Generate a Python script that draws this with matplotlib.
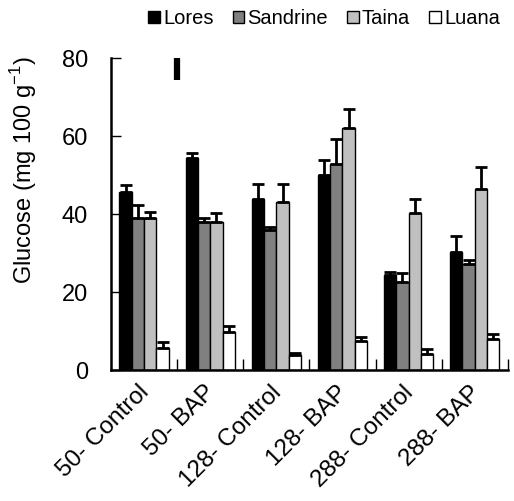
import numpy as np
import matplotlib
matplotlib.use("Agg")
import matplotlib.pyplot as plt
from matplotlib.transforms import ScaledTranslation

plt.rcParams['font.family'] = ['Liberation Sans', 'DejaVu Sans']

categories = ["50- Control", "50- BAP", "128- Control", "128- BAP", "288- Control", "288- BAP"]
series = ["Lores", "Sandrine", "Taina", "Luana"]
colors = ["#000000", "#808080", "#c0c0c0", "#ffffff"]

lores = [45.6, 54.4, 44.0, 50.1, 24.4, 30.3]
lores_err = [1.9, 1.3, 3.7, 3.7, 0.8, 4.0]
sandrine = [39.0, 37.9, 35.9, 52.9, 22.5, 27.3]
sandrine_err = [3.3, 1.1, 0.9, 6.3, 2.4, 1.0]
taina = [39.0, 37.9, 43.1, 62.1, 40.3, 46.5]
taina_err = [1.6, 2.4, 4.6, 4.9, 3.5, 5.6]
luana = [5.7, 9.8, 4.0, 7.5, 4.1, 8.1]
luana_err = [1.6, 1.6, 0.3, 0.9, 1.3, 1.2]

values = [lores, sandrine, taina, luana]
errors = [lores_err, sandrine_err, taina_err, luana_err]

fig = plt.figure(figsize=(5.14, 5.01), dpi=100)
ax = fig.add_axes([0.216, 0.261, 0.772, 0.623])

x = np.arange(len(categories))
width = 0.186
offsets = (np.arange(len(series)) - 1.5) * width

handles = []
for i, name in enumerate(series):
    b = ax.bar(x + offsets[i], values[i], width, color=colors[i], edgecolor="black",
               linewidth=1.0, label=name, zorder=2)
    ax.errorbar(x + offsets[i], values[i], yerr=[np.zeros(len(x)), errors[i]],
                fmt="none", ecolor="black", elinewidth=2, capsize=4.5, capthick=2, zorder=3)
    handles.append(b)

# short stray stroke near the top of the plot
ax.vlines(0.5, 74.3, 80, colors="black", linewidth=4.5, zorder=3)

ax.set_xlim(-0.5, len(categories) - 0.5)
ax.set_ylim(0, 80)
ax.set_yticks([0, 20, 40, 60, 80])
ax.tick_params(axis="y", direction="in", length=7, width=1, labelsize=17, pad=16.5)
ax.set_xticks(x + 0.5, minor=False)
ax.set_xticks(x, minor=True)
ax.tick_params(axis="x", which="major", direction="in", length=8, width=1, labelbottom=False)
ax.tick_params(axis="x", which="minor", length=0, labelsize=17.5, pad=13)
ax.set_xticklabels(categories, minor=True, rotation=45, ha="right", rotation_mode="anchor")
shift = ScaledTranslation(-6 / 100, 7 / 100, fig.dpi_scale_trans)
for lbl in ax.get_xticklabels(minor=True):
    lbl.set_transform(lbl.get_transform() + shift)

for s in ["top", "right"]:
    ax.spines[s].set_visible(False)
ax.spines["left"].set_linewidth(1.8)
ax.spines["bottom"].set_linewidth(1.8)

ax.set_ylabel("Glucose (mg 100 g$^{\\mathregular{-1}}$)", fontsize=17, va="center")
ax.yaxis.set_label_coords(-0.22, 0.64)

fig.legend(handles=handles, labels=series, loc="upper right", bbox_to_anchor=(1.0, 1.01),
           ncol=4, frameon=False, fontsize=14.5, handlelength=0.58, handleheight=0.58,
           handletextpad=0.15, columnspacing=0.95, borderaxespad=0.3)

fig.savefig("out.png", dpi=100)
